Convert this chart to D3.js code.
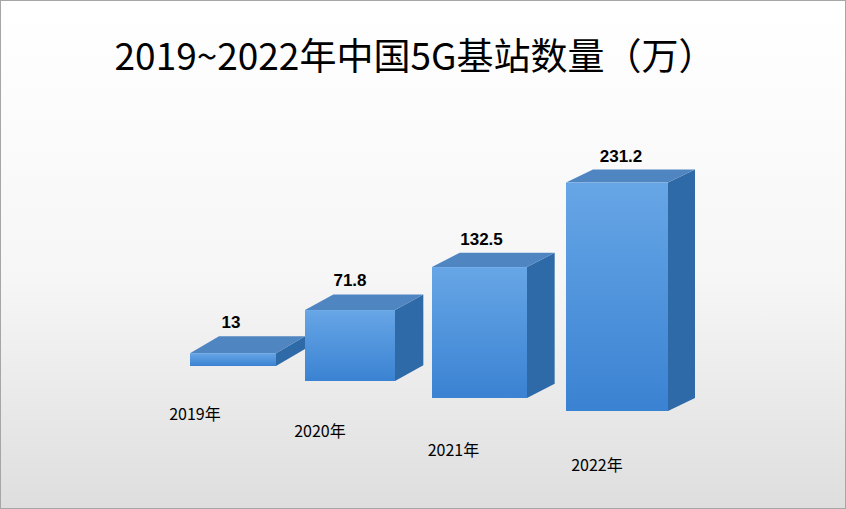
<!DOCTYPE html>
<html><head><meta charset="utf-8">
<script src="https://cdn.jsdelivr.net/npm/d3@7/dist/d3.min.js"></script>
<style>body{margin:0;background:#fff}</style></head>
<body><svg id="c" width="846" height="509"></svg>
<script>
const categories = ["2019年","2020年","2021年","2022年"];
const values = [13, 71.8, 132.5, 231.2];
const valueLabels = ["13","71.8","132.5","231.2"];
const title = "2019~2022年中国5G基站数量（万）";

const svg = d3.select("#c");
const defs = svg.append("defs");
const bg = defs.append("linearGradient").attr("id","bg").attr("x1",0).attr("y1",0).attr("x2",0).attr("y2",1);
bg.append("stop").attr("offset","0%").attr("stop-color","#ffffff");
bg.append("stop").attr("offset","55%").attr("stop-color","#f6f6f6");
bg.append("stop").attr("offset","100%").attr("stop-color","#dedede");
const fg = defs.append("linearGradient").attr("id","front").attr("x1",0).attr("y1",0).attr("x2",0).attr("y2",1);
fg.append("stop").attr("offset","0%").attr("stop-color","#67a6e6");
fg.append("stop").attr("offset","100%").attr("stop-color","#3a82d2");

svg.append("rect").attr("x",0.5).attr("y",0.5).attr("width",845).attr("height",508)
  .attr("fill","url(#bg)").attr("stroke","#a6a6a6");

svg.append("text").attr("x",415).attr("y",70).attr("text-anchor","middle")
  .attr("font-family","Noto Sans CJK SC").attr("font-size",37).attr("fill","#000").text(title);

const idx = d3.range(categories.length);
const xLeft = d3.scaleLinear().domain([0,1,2,3]).range([190,305,432,566]);
const bw = d3.scaleLinear().domain([0,1,2,3]).range([86,90,95,102]);
const base = d3.scaleLinear().domain([0,1,2,3]).range([366,381,398,411]);
const depthX = d3.scaleLinear().domain([0,3]).range([29,27]);
const depthY = d3.scaleLinear().domain([0,3]).range([-17,-13]);
const labOff = d3.scaleLinear().domain([0,1,2,3]).range([-38,-30,-26,-20]);
const h = d3.scaleLinear().domain([0,250]).range([0,247]);

const g = svg.append("g");
idx.forEach(i=>{
  const x0 = xLeft(i), x1 = x0 + bw(i), yb = base(i), yt = yb - h(values[i]);
  const dx = depthX(i), dy = depthY(i);
  g.append("path").attr("d",`M${x1},${yt}L${x1+dx},${yt+dy}L${x1+dx},${yb+dy}L${x1},${yb}Z`).attr("fill","#2f6aa8");
  g.append("path").attr("d",`M${x0},${yt}L${x0+dx},${yt+dy}L${x1+dx},${yt+dy}L${x1},${yt}Z`).attr("fill","#4f86c2");
  g.append("rect").attr("x",x0).attr("y",yt).attr("width",bw(i)).attr("height",yb-yt).attr("fill","url(#front)");
  g.append("text").attr("x",x0+bw(i)/2 + (i-1)*2).attr("y",yt+dy-8).attr("text-anchor","middle")
    .attr("font-family","Liberation Sans").attr("font-weight","bold").attr("font-size",17).text(valueLabels[i]);
  g.append("text").attr("x",x0+bw(i)/2+labOff(i)).attr("y",yb+54+i*2).attr("text-anchor","middle")
    .attr("font-family","Noto Sans CJK SC").attr("font-size",16).text(categories[i]);
});
</script></body></html>
